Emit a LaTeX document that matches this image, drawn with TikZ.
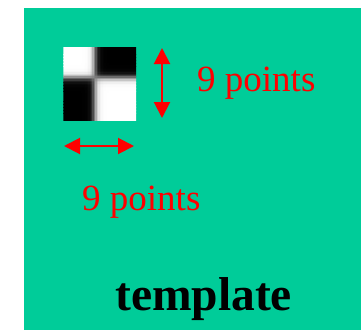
\documentclass[tikz,border=0pt]{standalone}
\usepackage{fontspec}
\setmainfont{Liberation Serif}
\usetikzlibrary{arrows.meta}
\definecolor{panelgreen}{RGB}{0,204,153}
\definecolor{dimred}{RGB}{255,0,0}
\tikzset{
  dimarrow/.style={draw=dimred, line width=2pt,
    {Triangle[width=16pt,length=16pt]}-{Triangle[width=16pt,length=16pt]}},
  dimlabel/.style={text=dimred, font=\fontsize{37}{40}\selectfont, inner sep=0pt, anchor=base west},
  titlelabel/.style={text=black, font=\fontsize{47.5}{50}\selectfont\bfseries, inner sep=0pt, anchor=base west},
}
\begin{document}
\begin{tikzpicture}[x=1pt,y=-1pt]
  \useasboundingbox (0,0) rectangle (361,330);
  \fill[white] (0,0) rectangle (361,330);
  % green panel
  \fill[panelgreen] (24,8) rectangle (361,330);

  % blurred 2x2 checker template, sampled on a fine grid
  \coordinate (sqtl) at (63.3,47.3);
  \coordinate (sqbr) at (136,120.7);
  \begin{scope}
    \clip (sqtl) rectangle (sqbr);
    \foreach \i in {0,...,49} {
      \foreach \j in {0,...,49} {
        \pgfmathsetmacro\cx{63.3+(\i+0.5)*1.4674}
        \pgfmathsetmacro\cy{47.3+(\j+0.5)*1.468}
        \pgfmathsetmacro\ax{tanh(max(min((\cx-95)/3.8,4),-4))}
        \pgfmathsetmacro\ay{tanh(max(min((\cy-78)/3.8,4),-4))}
        \pgfmathsetmacro\gv{max(min(0.5+0.5*\ax*\ay,1),0)}
        \definecolor{cellgray}{gray}{\gv}
        \fill[cellgray] (\cx-0.9,\cy-0.9) rectangle (\cx+0.9,\cy+0.9);
      }
    }
  \end{scope}
  \node[inner sep=0pt, minimum width=72.7pt, minimum height=73.4pt, anchor=north west] (tmpl) at (sqtl) {};

  % dimension arrows
  \coordinate (vtop) at (162,48);
  \coordinate (vbot) at (162,118);
  \draw[dimarrow] (vtop) -- (vbot);
  \coordinate (hleft) at (64,146);
  \coordinate (hright) at (134,146);
  \draw[dimarrow] (hleft) -- (hright);

  % labels
  \node[dimlabel] (hlabel) at (197,91.5) {9 points};
  \node[dimlabel] (wlabel) at (82,210.5) {9 points};
  \node[titlelabel] (title) at (115,310.5) {template};
\end{tikzpicture}
\end{document}
